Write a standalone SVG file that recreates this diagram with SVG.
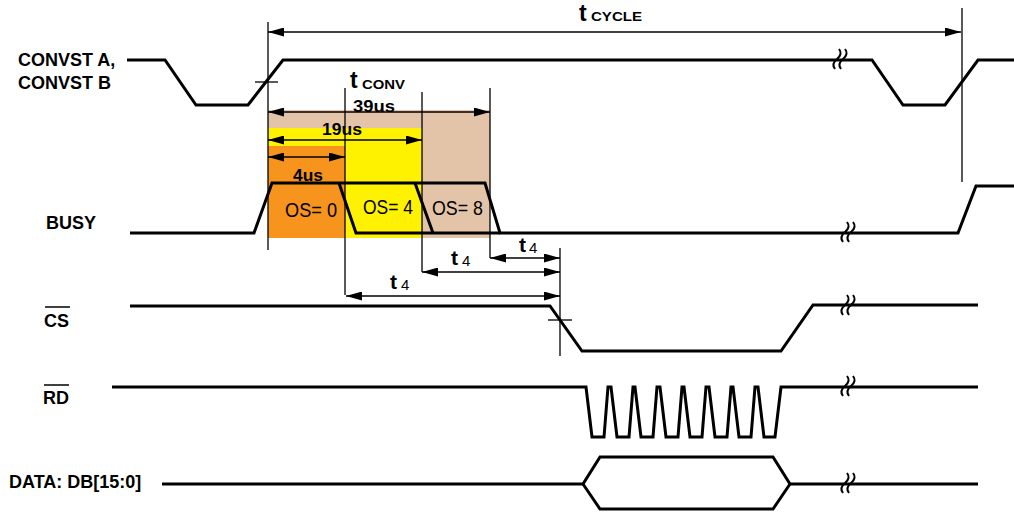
<svg xmlns="http://www.w3.org/2000/svg" width="1014" height="512" viewBox="0 0 1014 512">
<style>
.sig{fill:none;stroke:#000;stroke-width:3;stroke-linejoin:miter}
.dim{fill:none;stroke:#000;stroke-width:1.3}
.arr{fill:none;stroke:#000;stroke-width:1.3;marker-start:url(#ah);marker-end:url(#ah)}
.lbl{font-family:"Liberation Sans",Arial,sans-serif;font-weight:bold;font-size:18px;fill:#000}
.dl{font-family:"Liberation Sans",Arial,sans-serif;font-weight:bold;font-size:17px;fill:#000}
.os{font-family:"Liberation Sans",Arial,sans-serif;font-size:20px;fill:#000}
.tb{font-family:"Liberation Sans",Arial,sans-serif;font-weight:bold;font-size:23px;fill:#000}
.sub{font-family:"Liberation Sans",Arial,sans-serif;font-weight:bold;font-size:13px;fill:#000}
.t4{font-family:"Liberation Sans",Arial,sans-serif;font-weight:bold;font-size:21px;fill:#000}
.n4{font-family:"Liberation Sans",Arial,sans-serif;font-size:15px;fill:#000}
.brk{fill:none;stroke:#000;stroke-width:2}
</style>
<defs>
<marker id="ah" viewBox="0 0 16 9" refX="16" refY="4.5" markerWidth="16" markerHeight="9" markerUnits="userSpaceOnUse" orient="auto-start-reverse">
<path d="M0,0 L16,4.5 L0,9 z" fill="#000"/>
</marker>
<g id="brk" class="brk">
<path d="M3,-10 Q7,-5 1,0 Q-5,5 -1,10"/>
<path d="M9,-10 Q13,-5 7,0 Q1,5 5,10"/>
</g>
</defs>

<g id="shading">
<rect x="268" y="110" width="222" height="128" fill="#E4C4A8"/>
<rect x="268" y="128" width="154" height="110" fill="#FFF200"/>
<rect x="268" y="146" width="77" height="92" fill="#F7941D"/>
</g>

<g id="labels">
<text class="lbl" x="18" y="66">CONVST A,</text>
<text class="lbl" x="18" y="89">CONVST B</text>
<text class="lbl" x="46" y="229">BUSY</text>
<text class="lbl" x="44" y="327">CS</text>
<line x1="45" y1="307" x2="70" y2="307" stroke="#000" stroke-width="1.5"/>
<text class="lbl" x="43" y="404">RD</text>
<line x1="44" y1="385" x2="69" y2="385" stroke="#000" stroke-width="1.5"/>
<text class="lbl" x="9" y="488">DATA: DB[15:0]</text>
</g>

<g id="convst">
<polyline class="sig" points="127,60 165,60 196,105 248,105 283,60 872,60 903,105 945,105 978,60 1014,60"/>
<line class="dim" x1="255" y1="82" x2="278" y2="82"/>
<use href="#brk" x="836" y="59"/>
</g>

<g id="busy">
<polyline class="sig" points="130,233 254,233 272,183 485,183 500,233 958,233 976,186 1014,186"/>
<polyline class="sig" points="339,183 356,233 500,233"/>
<polyline class="sig" points="415,183 433,233"/>
<use href="#brk" x="844" y="232"/>
<text class="os" x="285" y="217" textLength="52" lengthAdjust="spacingAndGlyphs">OS= 0</text>
<text class="os" x="363" y="214" textLength="50" lengthAdjust="spacingAndGlyphs">OS= 4</text>
<text class="os" x="432" y="215" textLength="51" lengthAdjust="spacingAndGlyphs">OS= 8</text>
</g>

<g id="cs">
<polyline class="sig" points="130,306 550,306 582,351 781,351 813,305 978,305"/>
<line class="dim" x1="548" y1="320" x2="572" y2="320"/>
<use href="#brk" x="844" y="305"/>
</g>

<g id="rd">
<polyline class="sig" points="112,387 586,387 592,437 604,437 608,387 611,387 617,437 629,437 633,387 635,387 641,437 653,437 657,387 660,387 666,437 678,437 682,387 684,387 690,437 702,437 706,387 709,387 715,437 727,437 731,387 733,387 739,437 751,437 755,387 758,387 764,437 775,437 781,387 978,387"/>
<use href="#brk" x="844" y="386"/>
</g>

<g id="data">
<polyline class="sig" points="162,484 583,484 600,457 773,457 790,484 978,484"/>
<polyline class="sig" points="583,484 600,509 773,509 790,484"/>
<use href="#brk" x="844" y="483"/>
</g>

<g id="connectors">
<line class="dim" x1="268" y1="22" x2="268" y2="250"/>
<line class="dim" x1="962" y1="8" x2="962" y2="182"/>
<line class="dim" x1="345" y1="88" x2="345" y2="295"/>
<line class="dim" x1="422" y1="92" x2="422" y2="272"/>
<line class="dim" x1="490" y1="88" x2="490" y2="258"/>
<line class="dim" x1="560" y1="248" x2="560" y2="356"/>
<line class="arr" x1="268" y1="32" x2="961" y2="32"/>
<line class="arr" x1="268" y1="112" x2="490" y2="112"/>
<line class="arr" x1="268" y1="140" x2="422" y2="140"/>
<line class="arr" x1="268" y1="157" x2="345" y2="157"/>
<line class="arr" x1="346" y1="296" x2="560" y2="296"/>
<line class="arr" x1="422" y1="272" x2="560" y2="272"/>
<line class="arr" x1="490" y1="258" x2="560" y2="258"/>
</g>

<g id="dim-labels">
<text class="tb" x="579" y="21">t</text>
<text class="sub" x="591" y="21" textLength="51" lengthAdjust="spacingAndGlyphs">CYCLE</text>
<text class="tb" x="350" y="88">t</text>
<text class="sub" x="362" y="89" textLength="43" lengthAdjust="spacingAndGlyphs">CONV</text>
<text class="dl" x="353" y="112" textLength="42" lengthAdjust="spacingAndGlyphs">39us</text>
<text class="dl" x="322" y="135" textLength="40" lengthAdjust="spacingAndGlyphs">19us</text>
<text class="dl" x="293" y="181" textLength="30" lengthAdjust="spacingAndGlyphs">4us</text>
<text class="t4" x="390" y="289">t</text><text class="n4" x="401" y="290">4</text>
<text class="t4" x="451" y="265">t</text><text class="n4" x="462" y="266">4</text>
<text class="t4" x="519" y="252">t</text><text class="n4" x="529" y="253">4</text>
</g>
</svg>
